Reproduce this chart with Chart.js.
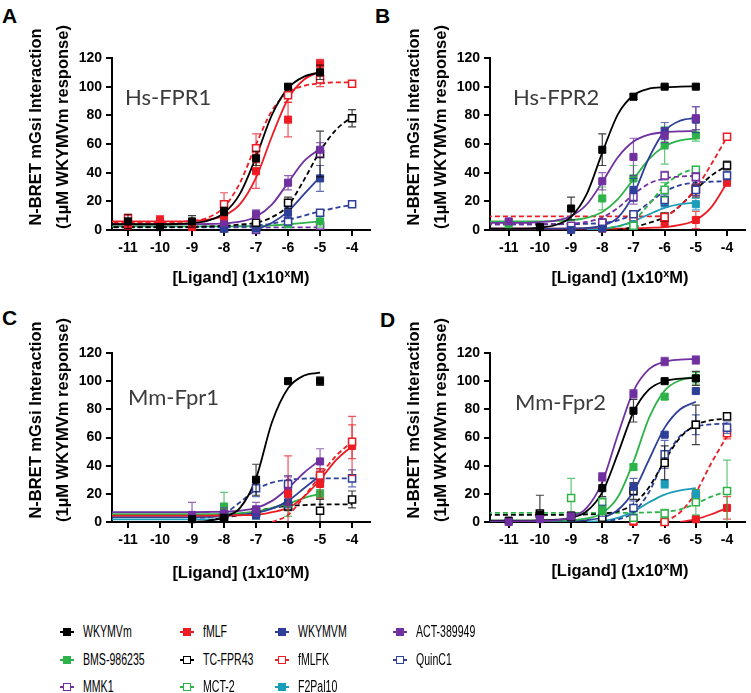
<!DOCTYPE html>
<html>
<head>
<meta charset="utf-8">
<script src="https://cdn.jsdelivr.net/npm/chart.js@4.4.1/dist/chart.umd.min.js"></script>
<style>
  body { margin: 0; background: #fff; }
  #fig { position: relative; width: 751px; height: 693px; overflow: hidden; font-family: 'Liberation Sans', Arial, sans-serif; }
  canvas { position: absolute; }
  .letter { position: absolute; font-weight: bold; font-size: 21px; line-height: 21px; }
  .inset { position: absolute; font-family: Lato, 'Open Sans', sans-serif; font-size: 22px; line-height: 26px; color: #3c3c3c; }
  .ytitle { position: absolute; width: 240px; height: 54px; text-align: center; font-weight: bold; font-size: 16.5px; line-height: 27px; transform: rotate(-90deg); white-space: nowrap; }
  .xtitle { position: absolute; width: 240px; height: 22px; text-align: center; font-weight: bold; font-size: 16.5px; line-height: 22px; white-space: nowrap; }
  .xtitle span { font-size: 11px; position: relative; top: -6px; }
  .mk { position: absolute; width: 14px; height: 2px; }
  .mk i { position: absolute; left: 3px; top: -3px; width: 8px; height: 8px; box-sizing: border-box; }
  .lt { position: absolute; font-size: 16px; line-height: 20px; white-space: nowrap; transform: scaleX(0.66); transform-origin: left center; }
</style>
</head>
<body>
<div id="fig">
  <canvas id="chartA" width="340" height="230" style="left:40px;top:40px"></canvas>
  <canvas id="chartB" width="333" height="230" style="left:418px;top:40px"></canvas>
  <canvas id="chartC" width="340" height="227" style="left:40px;top:335px"></canvas>
  <canvas id="chartD" width="333" height="227" style="left:418px;top:335px"></canvas>

  <div class="letter" style="left:2px;top:5px">A</div>
  <div class="letter" style="left:375px;top:5px">B</div>
  <div class="letter" style="left:2px;top:307px">C</div>
  <div class="letter" style="left:380px;top:309px">D</div>

  <div class="inset" style="left:125px;top:84px">Hs-FPR1</div>
  <div class="inset" style="left:513px;top:84px">Hs-FPR2</div>
  <div class="inset" style="left:128px;top:384px">Mm-Fpr1</div>
  <div class="inset" style="left:515px;top:389px">Mm-Fpr2</div>

  <div class="ytitle" style="left:-71px;top:100px">N-BRET mGsi Interaction<br>(1µM WKYMVm response)</div>
  <div class="ytitle" style="left:307px;top:100px">N-BRET mGsi Interaction<br>(1µM WKYMVm response)</div>
  <div class="ytitle" style="left:-71px;top:393px">N-BRET mGsi Interaction<br>(1µM WKYMVm response)</div>
  <div class="ytitle" style="left:307px;top:393px">N-BRET mGsi Interaction<br>(1µM WKYMVm response)</div>

  <div class="xtitle" style="left:121px;top:266px">[Ligand] (1x10<span>x</span>M)</div>
  <div class="xtitle" style="left:500px;top:266px">[Ligand] (1x10<span>x</span>M)</div>
  <div class="xtitle" style="left:121px;top:561px">[Ligand] (1x10<span>x</span>M)</div>
  <div class="xtitle" style="left:500px;top:559px">[Ligand] (1x10<span>x</span>M)</div>

  <div id="legend"></div>
</div>

<script>
// log10 doses where the means were measured
const doses = [-11, -10, -9, -8, -7, -6, -5, -4];
const fitDoses = [-11.7, -11, -10.5, -10, -9.5, -9, -8.5, -8, -7.5, -7, -6.5, -6, -5.5, -5, -4.5, -4];
const xTicks = [-11, -10, -9, -8, -7, -6, -5, -4];
const yTicks = [0, 20, 40, 60, 80, 100, 120];

const seriesNames  = ['WKYMVm', 'fMLF', 'WKYMVM', 'ACT-389949', 'BMS-986235', 'TC-FPR43', 'fMLFK', 'QuinC1', 'MMK1', 'MCT-2', 'F2Pal10'];
const seriesColors = ['#000000', '#ed1c24', '#2e3f98', '#7030a0', '#2db34a', '#000000', '#ed1c24', '#2e3f98', '#7030a0', '#2db34a', '#1b9cb9'];
const seriesOpen   = [false, false, false, false, false, true, true, true, true, true, false];

// ---- Hs-FPR1 ----
const hsFpr1_WKYMVm     = [6, 2, 6, 13, 50, 100, 110, null];
const hsFpr1_WKYMVm_sem = [5, 2, 4, 3, 5, 1, 5, null];
const hsFpr1_WKYMVm_fit = [4, 4, 4, 4, 4.2, 4.8, 6.6, 11.9, 25.4, 51, 80.5, 99, 107, 110, null, null];
const hsFpr1_fMLF       = [3, 7, 2, 10, 41, 77, 116, null];
const hsFpr1_fMLF_sem   = [4, 3, 3, 3, 12, 12, 3, null];
const hsFpr1_fMLF_fit   = [6, 6, 6, 6, 6, 6.4, 7.3, 10, 18, 36.5, 65.6, 91.6, 105, 110.5, null, null];
const hsFpr1_WKYMVM     = [null, null, null, 1, 1, 12, 36, null];
const hsFpr1_WKYMVM_sem = [null, null, null, 1, 1, 4, 9, null];
const hsFpr1_WKYMVM_fit = [null, null, null, null, null, null, null, null, null, 0, 5, 13, 25, 37, null, null];
const hsFpr1_ACT        = [null, null, null, 5, 11, 33, 56, null];
const hsFpr1_ACT_sem    = [null, null, null, 2, 3, 5, 5, null];
const hsFpr1_ACT_fit    = [4, 4, 4, 4, 4, 4.1, 4.2, 4.6, 5.8, 9.3, 17.9, 33, 48, 56.7, null, null];
const hsFpr1_BMS        = [null, null, null, null, 2, 4, 6, null];
const hsFpr1_BMS_sem    = [null, null, null, null, 1, 2, 4, null];
const hsFpr1_BMS_fit    = [2.5, 2.5, 2.5, 2.5, 2.5, 2.5, 2.5, 2.5, 2.6, 2.7, 3.2, 4, 5, 6, null, null];
const hsFpr1_TCFPR43     = [null, null, null, null, 5, 19, 53, 78];
const hsFpr1_TCFPR43_sem = [null, null, null, null, 2, 4, 16, 6];
const hsFpr1_TCFPR43_fit = [2, 2, 2, 2, 2, 2.2, 2.5, 3, 3.8, 5, 9, 17, 35, 55, 70, 79];
const hsFpr1_fMLFK      = [8, null, null, 18, 57, 94, 105, 102];
const hsFpr1_fMLFK_sem  = [3, null, null, 8, 10, 5, 5, 1];
const hsFpr1_fMLFK_fit  = [5, 5, 5, 5, 5.5, 6.2, 8.7, 16, 33, 59.6, 83.4, 95.7, 100.6, 102.2, 103, 103];
const hsFpr1_QuinC1     = [null, null, null, 1, 2, 6, 12, 18];
const hsFpr1_QuinC1_sem = [null, null, null, 1, 1, 2, 2, 1];
const hsFpr1_QuinC1_fit = [2, 2, 2, 2, 2, 2, 2, 2.2, 2.5, 3, 4.5, 7, 10, 13, 15.5, 17.5];
const hsFpr1_MMK1       = [null, null, null, null, 0, null, 3, null];
const hsFpr1_MMK1_sem   = [null, null, null, null, 1, null, 1, null];
const hsFpr1_MMK1_fit   = [1.8, 1.8, 1.8, 1.8, 1.8, 1.8, 1.8, 1.8, 1.8, 1.8, 1.8, 1.8, 1.8, 1.8, null, null];

// ---- Hs-FPR2 ----
const hsFpr2_WKYMVm     = [null, 2, 15, 56, 93, 100, 100, null];
const hsFpr2_WKYMVm_sem = [null, 1, 8, 11, 2, 1, 1, null];
const hsFpr2_WKYMVm_fit = [1, 1, 1, 1.7, 3.5, 9.2, 25, 54, 80.7, 94, 98.6, 99.6, 100, 100.3, null, null];
const hsFpr2_fMLF       = [null, null, null, 1, 3, 5, 7, 33];
const hsFpr2_fMLF_sem   = [null, null, null, 1, 2, 3, 6, 2];
const hsFpr2_fMLF_fit   = [1, 1, 1, 1, 1, 1, 1, 1, 1, 1.2, 1.5, 2, 3.5, 7, 16, 33];
const hsFpr2_WKYMVM     = [null, null, 0, 1, 28, 69, 77, null];
const hsFpr2_WKYMVM_sem = [null, null, 1, 1, 8, 6, 9, null];
const hsFpr2_WKYMVM_fit = [1, 1, 1, 1, 1, 1.1, 1.4, 3.1, 8.7, 24.7, 50.5, 69, 76.3, 78.2, null, null];
const hsFpr2_ACT        = [6, null, null, 34, 51, 66, 78, null];
const hsFpr2_ACT_sem    = [1, null, null, 6, 13, 5, 8, null];
const hsFpr2_ACT_fit    = [5, 5, 5, 5.5, 6.6, 9.7, 17.8, 33.4, 50.8, 61.8, 66.6, 68.2, 68.8, 69, null, null];
const hsFpr2_BMS        = [4, null, null, 22, 36, 59, 66, null];
const hsFpr2_BMS_sem    = [1, null, null, 8, 9, 13, 4, null];
const hsFpr2_BMS_fit    = [6, 6, 6, 6, 6.3, 6.9, 8.5, 12.6, 21.5, 35.5, 49.5, 58.4, 62.5, 64, null, null];
const hsFpr2_TCFPR43     = [null, null, null, 5, null, 9, 29, 45];
const hsFpr2_TCFPR43_sem = [null, null, null, 2, null, 3, 6, 3];
const hsFpr2_TCFPR43_fit = [null, null, null, null, null, null, null, null, 0, 2, 5, 9, 17, 28, 38, 45];
const hsFpr2_fMLFK      = [null, null, null, null, 9, 9, 28, 65];
const hsFpr2_fMLFK_sem  = [null, null, null, null, 2, 2, 4, 1];
const hsFpr2_fMLFK_fit  = [9.5, 9.5, 9.5, 9.5, 9.5, 9.5, 9.5, 9.5, 9.5, 9.5, 9.5, 10, 17, 29, 46, 65];
const hsFpr2_QuinC1     = [null, null, 2, 3, 11, 21, 28, 38];
const hsFpr2_QuinC1_sem = [null, null, 1, 1, 2, 4, 4, 3];
const hsFpr2_QuinC1_fit = [4, 4, 4, 4, 4, 4.1, 4.3, 4.9, 6.7, 11.2, 19, 26.8, 31.3, 33, 33.7, 34];
const hsFpr2_MMK1       = [null, null, 3, 5, 23, 38, 37, null];
const hsFpr2_MMK1_sem   = [null, null, 1, 1, 5, 3, 3, null];
const hsFpr2_MMK1_fit   = [4, 4, 4, 4, 4.1, 4.5, 5.6, 8.7, 15.4, 24.8, 32.4, 36, 37.3, 37.8, null, null];
const hsFpr2_MCT2       = [null, null, null, null, 3, 28, 42, null];
const hsFpr2_MCT2_sem   = [null, null, null, null, 1, 5, 2, null];
const hsFpr2_MCT2_fit   = [null, null, null, null, null, null, null, 1, 2.5, 6.5, 18, 31, 39, 43, null, null];
const hsFpr2_F2Pal10     = [null, null, null, null, 4, 19, 18, null];
const hsFpr2_F2Pal10_sem = [null, null, null, null, 1, 3, 4, null];
const hsFpr2_F2Pal10_fit = [null, null, null, null, null, null, 0, 0.8, 2.5, 6, 11, 15.5, 18, 19, null, null];

// ---- Mm-Fpr1 ----
const mmFpr1_WKYMVm     = [null, null, 2, 3, 30, 100, 100, null];
const mmFpr1_WKYMVm_sem = [null, null, 1, 1, 11, 1, 3, null];
const mmFpr1_WKYMVm_fit = [null, null, null, null, null, 0, 0.8, 3.5, 10, 31, 71, 95, 104, 106, null, null];
const mmFpr1_fMLF       = [null, null, null, null, null, 20, 27, 54];
const mmFpr1_fMLF_sem   = [null, null, null, null, null, 27, 10, 21];
const mmFpr1_fMLF_fit   = [4.5, 4.5, 4.5, 4.5, 4.5, 4.5, 4.5, 4.6, 4.8, 5, 7, 10, 18, 30, 44, 54];
const mmFpr1_WKYMVM     = [null, null, null, 5, 5, 14, 32, null];
const mmFpr1_WKYMVM_sem = [null, null, null, 3, 3, 4, 6, null];
const mmFpr1_WKYMVM_fit = [3.5, 3.5, 3.5, 3.5, 3.5, 3.5, 3.6, 4.3, 5, 6.5, 9.5, 15, 24, 33, null, null];
const mmFpr1_ACT        = [null, null, 5, 6, 9, 22, 43, null];
const mmFpr1_ACT_sem    = [null, null, 9, 4, 5, 10, 9, null];
const mmFpr1_ACT_fit    = [7, 7, 7, 7, 7, 7, 7.1, 7.3, 8, 10, 15, 24, 35, 44, null, null];
const mmFpr1_BMS        = [null, null, null, 11, 5, 13, 20, null];
const mmFpr1_BMS_sem    = [null, null, null, 10, 3, 9, 3, null];
const mmFpr1_BMS_fit    = [5.5, 5.5, 5.5, 5.5, 5.5, 5.5, 5.6, 5.7, 6.2, 7.5, 10, 13, 17, 20, null, null];
const mmFpr1_TCFPR43     = [null, null, null, 3, 7, 11, 8, 16];
const mmFpr1_TCFPR43_sem = [null, null, null, 1, 2, 3, 8, 6];
const mmFpr1_TCFPR43_fit = [null, null, null, null, null, null, 1, 3, 5, 7.5, 10, 11.5, 12, 12.5, 12.5, 12.5];
const mmFpr1_fMLFK      = [null, null, null, null, null, null, 33, 57];
const mmFpr1_fMLFK_sem  = [null, null, null, null, null, null, 5, 12];
const mmFpr1_fMLFK_fit  = [null, null, null, null, null, null, null, null, null, null, 0, 5, 18, 33, 47, 57];
const mmFpr1_QuinC1     = [null, null, null, 5, 24, 27, 31, 31];
const mmFpr1_QuinC1_sem = [null, null, null, 2, 6, 6, 5, 6];
const mmFpr1_QuinC1_fit = [null, null, null, null, null, 3, 3.5, 6, 14, 23, 28, 30, 30.8, 31, 31, 31];
const mmFpr1_F2Pal10_fit = [1.8, 1.8, 1.8, 1.8, 1.8, 1.8, 1.8, 1.8, null, null, null, null, null, null, null, null];

// ---- Mm-Fpr2 ----
const mmFpr2_WKYMVm     = [1, 5, 4, 24, 79, 100, 102, null];
const mmFpr2_WKYMVm_sem = [1, 1, 3, 6, 8, 1, 5, null];
const mmFpr2_WKYMVm_fit = [1, 1, 1, 1.2, 1.6, 3, 7.6, 21, 48.5, 78, 94.1, 100, 101.8, 102.3, null, null];
const mmFpr2_fMLF       = [null, 5, null, null, 0, 0, 2, 10];
const mmFpr2_fMLF_sem   = [null, 1, null, null, 1, 1, 1, 8];
const mmFpr2_fMLF_fit   = [null, null, null, null, null, null, null, null, null, null, null, null, 0, 2, 5.5, 10];
const mmFpr2_WKYMVM     = [null, null, null, 8, 25, 62, 93, null];
const mmFpr2_WKYMVM_sem = [null, null, null, 4, 6, 1, 1, null];
const mmFpr2_WKYMVM_fit = [0.5, 0.5, 0.5, 0.5, 0.5, 0.7, 1.4, 3.2, 8.5, 21.6, 44.3, 67, 80.1, 85.4, null, null];
const mmFpr2_ACT        = [0, 2, 4, 32, 91, 114, 115, null];
const mmFpr2_ACT_sem    = [1, 1, 1, 3, 3, 3, 3, null];
const mmFpr2_ACT_fit    = [0.5, 0.5, 0.6, 0.8, 1.3, 3.3, 10, 28.4, 62, 93, 108.5, 113.8, 115.3, 115.8, null, null];
const mmFpr2_BMS        = [null, null, null, 8, 39, 89, 102, null];
const mmFpr2_BMS_sem    = [null, null, null, 3, 2, 2, 4, null];
const mmFpr2_BMS_fit    = [1, 1, 1, 1, 1, 1.2, 2.5, 6.3, 17.7, 42.8, 73.9, 93.3, 100.7, 103, null, null];
const mmFpr2_TCFPR43     = [null, 6, 4, 3, 22, 42, 69, 75];
const mmFpr2_TCFPR43_sem = [null, 13, 3, 1, 6, 12, 14, 2];
const mmFpr2_TCFPR43_fit = [5, 5, 5, 5, 5, 5.2, 5.4, 5.9, 7.6, 12.7, 24.7, 43.4, 60, 68.9, 72.3, 73.4];
const mmFpr2_fMLFK      = [null, null, null, null, 1, 0, 18, 63];
const mmFpr2_fMLFK_sem  = [null, null, null, null, 1, 1, 5, 4];
const mmFpr2_fMLFK_fit  = [null, null, null, null, null, null, null, null, null, null, null, 0, 7, 21, 42, 61];
const mmFpr2_QuinC1     = [null, null, null, null, 10, 48, 69, 67];
const mmFpr2_QuinC1_sem = [null, null, null, null, 5, 10, 7, 4];
const mmFpr2_QuinC1_fit = [null, null, null, null, null, null, null, 0.5, 1.9, 6.9, 21.3, 44.5, 61.1, 67.6, 69.3, 69.8];
const mmFpr2_MCT2       = [null, null, 17, 14, 3, 6, 14, 22];
const mmFpr2_MCT2_sem   = [null, null, 14, 3, 5, 3, 9, 22];
const mmFpr2_MCT2_fit   = [6.5, 6.5, 6.5, 6.5, 6.5, 6.5, 6.5, 6.5, 6.5, 6.6, 6.8, 7.3, 9, 13, 18, 22];
const mmFpr2_F2Pal10     = [null, null, null, null, null, 27, 20, null];
const mmFpr2_F2Pal10_sem = [null, null, null, null, null, 3, 2, null];
const mmFpr2_F2Pal10_fit = [null, null, null, null, null, null, 0, 0.8, 3, 7.5, 14, 19.5, 22.5, 24, null, null];

// [series name, means, sem, fitted curve]
const panelA = [
    ['WKYMVm', hsFpr1_WKYMVm, hsFpr1_WKYMVm_sem, hsFpr1_WKYMVm_fit],
    ['fMLF', hsFpr1_fMLF, hsFpr1_fMLF_sem, hsFpr1_fMLF_fit],
    ['fMLFK', hsFpr1_fMLFK, hsFpr1_fMLFK_sem, hsFpr1_fMLFK_fit],
    ['ACT-389949', hsFpr1_ACT, hsFpr1_ACT_sem, hsFpr1_ACT_fit],
    ['TC-FPR43', hsFpr1_TCFPR43, hsFpr1_TCFPR43_sem, hsFpr1_TCFPR43_fit],
    ['WKYMVM', hsFpr1_WKYMVM, hsFpr1_WKYMVM_sem, hsFpr1_WKYMVM_fit],
    ['QuinC1', hsFpr1_QuinC1, hsFpr1_QuinC1_sem, hsFpr1_QuinC1_fit],
    ['BMS-986235', hsFpr1_BMS, hsFpr1_BMS_sem, hsFpr1_BMS_fit],
    ['MMK1', hsFpr1_MMK1, hsFpr1_MMK1_sem, hsFpr1_MMK1_fit]
];
const panelB = [
    ['WKYMVm', hsFpr2_WKYMVm, hsFpr2_WKYMVm_sem, hsFpr2_WKYMVm_fit],
    ['ACT-389949', hsFpr2_ACT, hsFpr2_ACT_sem, hsFpr2_ACT_fit],
    ['WKYMVM', hsFpr2_WKYMVM, hsFpr2_WKYMVM_sem, hsFpr2_WKYMVM_fit],
    ['BMS-986235', hsFpr2_BMS, hsFpr2_BMS_sem, hsFpr2_BMS_fit],
    ['MMK1', hsFpr2_MMK1, hsFpr2_MMK1_sem, hsFpr2_MMK1_fit],
    ['MCT-2', hsFpr2_MCT2, hsFpr2_MCT2_sem, hsFpr2_MCT2_fit],
    ['QuinC1', hsFpr2_QuinC1, hsFpr2_QuinC1_sem, hsFpr2_QuinC1_fit],
    ['F2Pal10', hsFpr2_F2Pal10, hsFpr2_F2Pal10_sem, hsFpr2_F2Pal10_fit],
    ['fMLFK', hsFpr2_fMLFK, hsFpr2_fMLFK_sem, hsFpr2_fMLFK_fit],
    ['TC-FPR43', hsFpr2_TCFPR43, hsFpr2_TCFPR43_sem, hsFpr2_TCFPR43_fit],
    ['fMLF', hsFpr2_fMLF, hsFpr2_fMLF_sem, hsFpr2_fMLF_fit]
];
const panelC = [
    ['WKYMVm', mmFpr1_WKYMVm, mmFpr1_WKYMVm_sem, mmFpr1_WKYMVm_fit],
    ['fMLFK', mmFpr1_fMLFK, mmFpr1_fMLFK_sem, mmFpr1_fMLFK_fit],
    ['fMLF', mmFpr1_fMLF, mmFpr1_fMLF_sem, mmFpr1_fMLF_fit],
    ['ACT-389949', mmFpr1_ACT, mmFpr1_ACT_sem, mmFpr1_ACT_fit],
    ['WKYMVM', mmFpr1_WKYMVM, mmFpr1_WKYMVM_sem, mmFpr1_WKYMVM_fit],
    ['QuinC1', mmFpr1_QuinC1, mmFpr1_QuinC1_sem, mmFpr1_QuinC1_fit],
    ['BMS-986235', mmFpr1_BMS, mmFpr1_BMS_sem, mmFpr1_BMS_fit],
    ['TC-FPR43', mmFpr1_TCFPR43, mmFpr1_TCFPR43_sem, mmFpr1_TCFPR43_fit],
    ['F2Pal10', null, null, mmFpr1_F2Pal10_fit]
];
const panelD = [
    ['ACT-389949', mmFpr2_ACT, mmFpr2_ACT_sem, mmFpr2_ACT_fit],
    ['WKYMVm', mmFpr2_WKYMVm, mmFpr2_WKYMVm_sem, mmFpr2_WKYMVm_fit],
    ['BMS-986235', mmFpr2_BMS, mmFpr2_BMS_sem, mmFpr2_BMS_fit],
    ['WKYMVM', mmFpr2_WKYMVM, mmFpr2_WKYMVM_sem, mmFpr2_WKYMVM_fit],
    ['TC-FPR43', mmFpr2_TCFPR43, mmFpr2_TCFPR43_sem, mmFpr2_TCFPR43_fit],
    ['QuinC1', mmFpr2_QuinC1, mmFpr2_QuinC1_sem, mmFpr2_QuinC1_fit],
    ['F2Pal10', mmFpr2_F2Pal10, mmFpr2_F2Pal10_sem, mmFpr2_F2Pal10_fit],
    ['MCT-2', mmFpr2_MCT2, mmFpr2_MCT2_sem, mmFpr2_MCT2_fit],
    ['fMLFK', mmFpr2_fMLFK, mmFpr2_fMLFK_sem, mmFpr2_fMLFK_fit],
    ['fMLF', mmFpr2_fMLF, mmFpr2_fMLF_sem, mmFpr2_fMLF_fit]
];

const tickFont = { family: "'Liberation Sans', Arial, sans-serif", size: 14, weight: 'bold' };

function styleOf(name) {
    const i = seriesNames.indexOf(name);
    return { color: seriesColors[i], open: seriesOpen[i] };
}

// SEM whiskers, drawn just before each point dataset
const errorBars = {
    id: 'errorBars',
    beforeDatasetDraw(chart, args) {
        const ds = chart.data.datasets[args.index];
        if (!ds.isPoints) return;
        const { ctx, scales: { x, y } } = chart;
        ctx.save();
        ctx.strokeStyle = ds.borderColor;
        ctx.globalAlpha = 0.75;
        ctx.lineWidth = 1.2;
        ds.data.forEach(p => {
            if (!p.sem) return;
            const px = x.getPixelForValue(p.x);
            const top = y.getPixelForValue(p.y + p.sem);
            const bot = y.getPixelForValue(Math.max(0, p.y - p.sem));
            ctx.beginPath();
            ctx.moveTo(px, top); ctx.lineTo(px, bot);
            ctx.moveTo(px - 4, top); ctx.lineTo(px + 4, top);
            if (p.y - p.sem > 0) { ctx.moveTo(px - 4, bot); ctx.lineTo(px + 4, bot); }
            ctx.stroke();
        });
        ctx.restore();
    }
};

function makePanel(id, panel, xMin, xMax, padRight) {
    const pointSets = [];
    const fitSets = [];
    panel.forEach(([name, means, sem, fit]) => {
        const st = styleOf(name);
        if (means) {
            pointSets.push({
                isPoints: true,
                data: doses.map((x, i) => ({ x, y: means[i], sem: sem[i] })).filter(p => p.y !== null),
                showLine: false,
                pointStyle: 'rect',
                pointRadius: 5,
                borderColor: st.color,
                backgroundColor: st.open ? '#ffffff' : st.color,
                pointBorderWidth: st.open ? 1.5 : 1,
                clip: false
            });
        }
        fitSets.push({
            data: fitDoses.map((x, i) => ({ x, y: fit[i] })).filter(p => p.y !== null),
            borderColor: st.color,
            borderWidth: 1.8,
            borderDash: st.open ? [5, 3] : [],
            pointRadius: 0,
            cubicInterpolationMode: 'monotone',
            fill: false
        });
    });

    new Chart(document.getElementById(id), {
        type: 'line',
        data: { datasets: pointSets.concat(fitSets) },
        options: {
            responsive: false,
            animation: false,
            layout: { padding: { top: 18, right: padRight, left: 0, bottom: 0 } },
            plugins: { legend: { display: false }, tooltip: { enabled: false } },
            scales: {
                x: {
                    type: 'linear', min: xMin, max: xMax,
                    afterBuildTicks: ax => { ax.ticks = xTicks.map(v => ({ value: v })); },
                    afterFit: sc => { sc.height = 40; },
                    ticks: { font: tickFont, color: '#000', padding: 4, maxRotation: 0, autoSkip: false },
                    grid: { drawOnChartArea: false, tickLength: 6, color: '#000', lineWidth: 2 },
                    border: { color: '#000', width: 2 }
                },
                y: {
                    min: 0, max: 120,
                    afterBuildTicks: ax => { ax.ticks = yTicks.map(v => ({ value: v })); },
                    afterFit: sc => { sc.width = 72; },
                    ticks: { font: tickFont, color: '#000', padding: 4 },
                    grid: { drawOnChartArea: false, tickLength: 6, color: '#000', lineWidth: 2 },
                    border: { color: '#000', width: 2 }
                }
            }
        },
        plugins: [errorBars]
    });
}

makePanel('chartA', panelA, -11.5, -3.44, 10);
makePanel('chartB', panelB, -11.6, -3.44, 1);
makePanel('chartC', panelC, -11.5, -3.44, 10);
makePanel('chartD', panelD, -11.6, -3.44, 1);

// Legend (three rows, four columns)
const legendCols = [67, 187, 282, 400];
const legendRows = [632, 660, 687];
const legend = document.getElementById('legend');
seriesNames.forEach((name, i) => {
    const cx = legendCols[i % 4];
    const cy = legendRows[Math.floor(i / 4)];
    const c = seriesColors[i];
    const mk = document.createElement('span');
    mk.className = 'mk';
    mk.style.cssText = `left:${cx - 7}px;top:${cy - 1}px;background:${c}`;
    const sq = document.createElement('i');
    sq.style.cssText = seriesOpen[i]
        ? `background:#fff;border:1.5px solid ${c}`
        : `background:${c}`;
    mk.appendChild(sq);
    const txt = document.createElement('span');
    txt.className = 'lt';
    txt.style.cssText = `left:${cx + 16}px;top:${cy - 10}px`;
    txt.textContent = name;
    legend.appendChild(mk);
    legend.appendChild(txt);
});
</script>
</body>
</html>
